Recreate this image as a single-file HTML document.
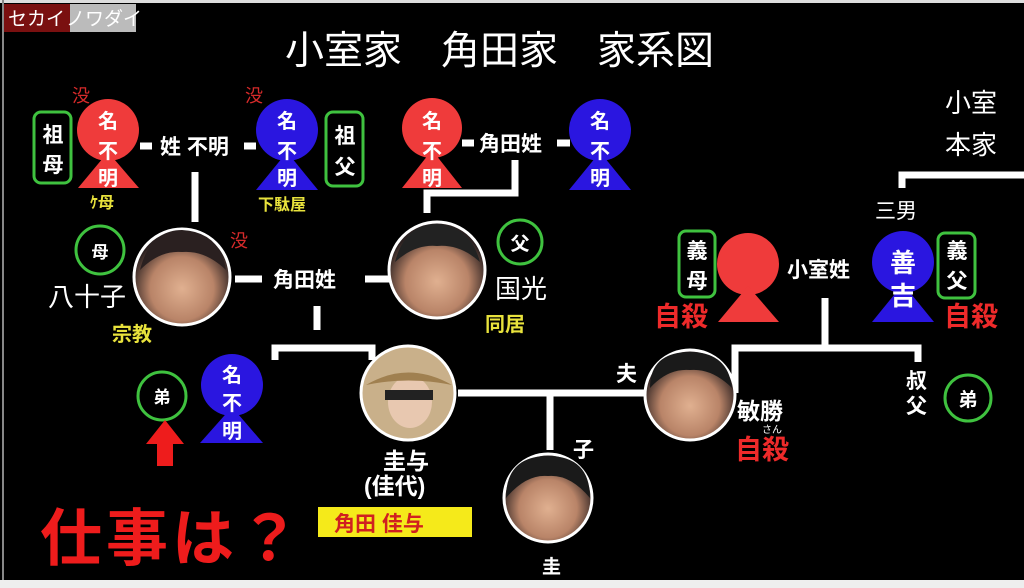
<!DOCTYPE html>
<html><head><meta charset="utf-8"><style>
html,body{margin:0;padding:0;background:#000;}
svg{display:block;font-family:"Liberation Sans","Noto Sans CJK JP",sans-serif;font-weight:bold;}
</style></head><body>
<svg width="1024" height="588" viewBox="0 0 1024 588" xmlns="http://www.w3.org/2000/svg">
<rect width="1024" height="588" fill="#000"/>
<rect x="0" y="580" width="1024" height="8" fill="#eee"/>
<rect x="0" y="0" width="1024" height="3" fill="#ddd"/>
<rect x="2" y="0" width="2" height="580" fill="#888"/>
<rect x="4" y="4" width="66" height="28" fill="#7a1010"/>
<rect x="70" y="4" width="66" height="28" fill="#bbb"/>
<text x="8" y="25" font-size="19" fill="#fff" font-weight="normal">セカイ</text>
<text x="66" y="25" font-size="19" fill="#fff" font-weight="normal">ノワダイ</text>
<text x="285" y="64" font-size="39" fill="#fff" font-weight="normal">小室家　角田家　家系図</text>
<text x="945" y="112" font-size="26" fill="#fff" font-weight="normal">小室</text>
<text x="945" y="154" font-size="26" fill="#fff" font-weight="normal">本家</text>

<g stroke="#fff" stroke-width="7" fill="none">
<line x1="140" y1="146" x2="152" y2="146"/><line x1="244" y1="146" x2="256" y2="146"/>
<line x1="195" y1="172" x2="195" y2="222"/>
<line x1="462" y1="143" x2="474" y2="143"/><line x1="557" y1="143" x2="570" y2="143"/>
<polyline points="515,160 515,193 427,193 427,213"/>
<line x1="235" y1="279" x2="262" y2="279"/><line x1="365" y1="279" x2="390" y2="279"/>
<polyline points="317,306 317,330"/>
<polyline points="275,360 275,348 372,348 372,360"/>
<line x1="458" y1="393" x2="655" y2="393"/>
<line x1="550" y1="393" x2="550" y2="450"/>
<polyline points="735,393 735,348 918,348 918,362"/>
<line x1="825" y1="298" x2="825" y2="348"/>
<polyline points="902,188 902,175 1024,175"/>
</g>

<g>
<circle cx="108" cy="130" r="31" fill="#ef3b3b"/><polygon points="108,152 78,188 139,188" fill="#ef3b3b"/>
<circle cx="287" cy="130" r="31" fill="#2a16e0"/><polygon points="287,152 256,190 318,190" fill="#2a16e0"/>
<circle cx="432" cy="128" r="30" fill="#ef3b3b"/><polygon points="432,150 402,188 462,188" fill="#ef3b3b"/>
<circle cx="600" cy="130" r="31" fill="#2a16e0"/><polygon points="600,152 569,190 631,190" fill="#2a16e0"/>
<circle cx="232" cy="385" r="31" fill="#2a16e0"/><polygon points="232,407 200,443 263,443" fill="#2a16e0"/>
<circle cx="748" cy="264" r="31" fill="#ef3b3b"/><polygon points="748,286 718,322 779,322" fill="#ef3b3b"/>
<circle cx="903" cy="262" r="31" fill="#2a16e0"/><polygon points="903,284 872,322 934,322" fill="#2a16e0"/>
</g>
<g fill="#fff" font-size="20" text-anchor="middle">
<text x="108" y="128">名</text><text x="108" y="158">不</text><text x="108" y="185">明</text>
<text x="287" y="128">名</text><text x="287" y="158">不</text><text x="287" y="185">明</text>
<text x="432" y="128">名</text><text x="432" y="158">不</text><text x="432" y="185">明</text>
<text x="600" y="128">名</text><text x="600" y="158">不</text><text x="600" y="185">明</text>
<text x="232" y="382">名</text><text x="232" y="410">不</text><text x="232" y="438">明</text>
<text x="903" y="272" font-size="26">善</text><text x="903" y="305" font-size="26">吉</text>
</g>
<g fill="none" stroke="#3fc23f" stroke-width="3">
<rect x="34" y="112" width="37" height="71" rx="7"/>
<rect x="326" y="112" width="37" height="74" rx="7"/>
<rect x="679" y="231" width="36" height="66" rx="7"/>
<rect x="938" y="233" width="37" height="65" rx="7"/>
<circle cx="100" cy="250" r="24"/>
<circle cx="520" cy="242" r="22"/>
<circle cx="162" cy="396" r="24"/>
<circle cx="968" cy="398" r="23"/>
</g>
<g fill="#fff" font-size="21" text-anchor="middle">
<text x="53" y="142">祖</text><text x="53" y="172">母</text>
<text x="345" y="143">祖</text><text x="345" y="174">父</text>
<text x="697" y="258">義</text><text x="697" y="288">母</text>
<text x="957" y="258">義</text><text x="957" y="288">父</text>
<text x="100" y="258" font-size="17">母</text>
<text x="520" y="250" font-size="19">父</text>
<text x="162" y="403" font-size="17">弟</text>
<text x="968" y="406" font-size="19">弟</text>
</g>
<g fill="#fff" font-size="21">
<text x="160" y="154">姓 不明</text>
<text x="479" y="151">角田姓</text>
<text x="273" y="287">角田姓</text>
<text x="787" y="277">小室姓</text>
<text x="875" y="218" font-weight="normal">三男</text>
<text x="906" y="388">叔</text><text x="906" y="413">父</text>
<text x="616" y="381">夫</text>
<text x="573" y="457">子</text>
<text x="542" y="573" font-size="19">圭</text>
<text x="48" y="306" font-size="26" font-weight="normal">八十子</text>
<text x="495" y="298" font-size="26" font-weight="normal">国光</text>
<text x="383" y="469" font-size="23">圭与</text>
<text x="364" y="494" font-size="23">(佳代)</text>
<text x="737" y="419" font-size="23">敏勝</text>
<text x="762" y="433" font-size="10" font-weight="normal">さん</text>
</g>
<g fill="#e8e23c" font-size="20">
<text x="112" y="341">宗教</text>
<text x="485" y="331">同居</text>
<text x="258" y="210" font-size="16">下駄屋</text>
<text x="90" y="208" font-size="16">ｹ母</text>
</g>
<g fill="#d62a2a" font-size="18" font-weight="normal">
<text x="72" y="102">没</text><text x="245" y="102">没</text><text x="230" y="247">没</text>
</g>
<g fill="#ee2a2a" font-size="27">
<text x="654" y="326">自殺</text>
<text x="944" y="326">自殺</text>
<text x="735" y="459">自殺</text>
</g>
<defs>
<radialGradient id="sk" cx="50%" cy="62%" r="55%"><stop offset="0" stop-color="#e0b090"/><stop offset="0.6" stop-color="#b98468"/><stop offset="1" stop-color="#2a2020"/></radialGradient>
</defs>
<g stroke="#fff" stroke-width="3">
<circle cx="182" cy="277" r="48" fill="url(#sk)"/>
<circle cx="437" cy="270" r="48" fill="url(#sk)"/>
<circle cx="408" cy="393" r="47" fill="#c9b08a"/>
<circle cx="690" cy="395" r="45" fill="url(#sk)"/>
<circle cx="548" cy="498" r="44" fill="url(#sk)"/>
</g>
<path d="M140,270 Q150,230 182,230 Q220,232 226,270 Q205,250 182,252 Q160,250 140,270Z" fill="#2a2020"/>
<path d="M395,262 Q405,224 437,224 Q470,226 480,262 Q460,244 437,246 Q415,244 395,262Z" fill="#222"/>
<path d="M650,388 Q650,352 690,352 Q728,352 732,388 Q712,368 690,370 Q668,368 650,388Z" fill="#1a1a1a"/>
<path d="M506,498 Q506,456 548,456 Q590,456 590,498 Q570,474 548,476 Q526,474 506,498Z" fill="#1a1a1a"/>
<ellipse cx="410" cy="402" rx="22" ry="26" fill="#e8c8b0"/>
<path d="M366,385 Q408,360 452,385 Q408,376 366,385Z" fill="#a08050"/>
<rect x="385" y="390" width="48" height="10" fill="#222"/>
<polygon points="165,420 146,444 157,444 157,466 173,466 173,444 184,444" fill="#ee1c1c"/>
<text x="40" y="560" font-size="62" fill="#ee1c1c" letter-spacing="4">仕事は？</text>
<rect x="318" y="507" width="154" height="30" fill="#f5ea1a"/>
<text x="334" y="531" font-size="21" fill="#d02020">角田 佳与</text>
</svg>
</body></html>
